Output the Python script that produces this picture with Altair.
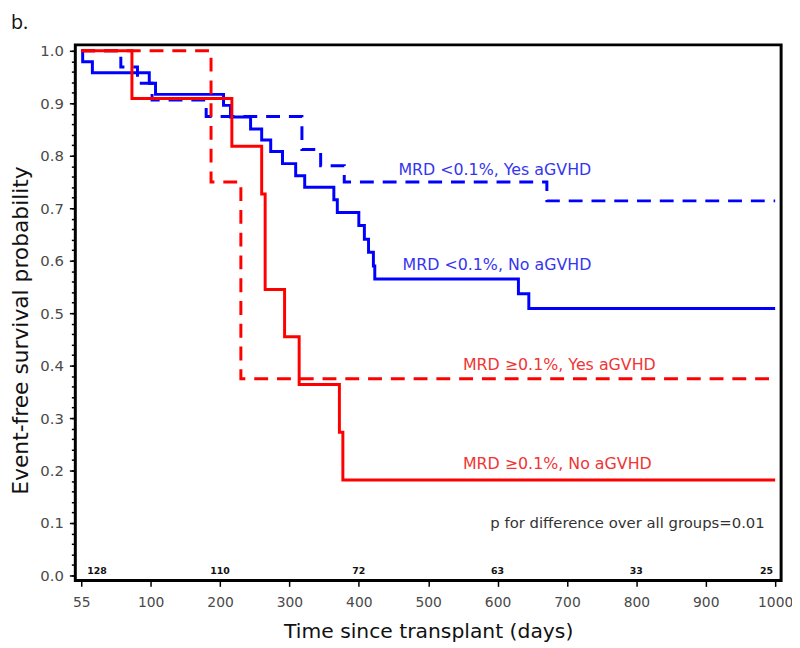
import altair as alt
import pandas as pd

# ---- data ----
blue_no_days = [0, 2, 16, 98, 107, 205, 215, 244, 260, 273, 290, 309, 322, 364, 369, 400, 408, 414, 421, 423, 630, 645, 1000]
blue_no_surv = [1.0, 0.979, 0.958, 0.938, 0.917, 0.896, 0.874, 0.851, 0.830, 0.808, 0.785, 0.762, 0.740, 0.716, 0.692, 0.667, 0.641, 0.616, 0.590, 0.565, 0.537, 0.509, 0.509]

blue_yes_days = [0, 57, 81, 102, 180, 318, 345, 379, 671, 1000]
blue_yes_surv = [1.0, 0.969, 0.938, 0.906, 0.875, 0.812, 0.781, 0.750, 0.714, 0.714]

red_no_days = [0, 73, 217, 260, 265, 293, 314, 372, 377, 1000]
red_no_surv = [1.0, 0.909, 0.818, 0.727, 0.545, 0.455, 0.364, 0.273, 0.182, 0.182]

red_yes_days = [0, 187, 230, 1000]
red_yes_surv = [1.0, 0.75, 0.375, 0.375]

series_names = ["MRD <0.1%, No aGVHD", "MRD <0.1%, Yes aGVHD",
                "MRD \u22650.1%, No aGVHD", "MRD \u22650.1%, Yes aGVHD"]
series_colors = ["#0000FF", "#0000FF", "#FF0000", "#FF0000"]
series_dash = [[1, 0], [14, 9], [1, 0], [14, 9]]

label_day = [463, 457, 550, 550]
label_surv = [0.591, 0.772, 0.212, 0.402]
label_colors = ["#3535f0", "#3535f0", "#f03535", "#f03535"]

risk_days = [0, 200, 400, 600, 800, 1000]
risk_n = [128, 110, 72, 63, 33, 25]

x_ticks = [0, 100, 200, 300, 400, 500, 600, 700, 800, 900, 1000]
y_ticks = [0.0, 0.1, 0.2, 0.3, 0.4, 0.5, 0.6, 0.7, 0.8, 0.9, 1.0]
y_minor = [round(i * 0.02, 2) for i in range(51)]

p_text = "p for difference over all groups=0.01"

# ---- tables ----
rows = []
for name, d, s in zip(series_names,
                      [blue_no_days, blue_yes_days, red_no_days, red_yes_days],
                      [blue_no_surv, blue_yes_surv, red_no_surv, red_yes_surv]):
    for i, (dd, ss) in enumerate(zip(d, s)):
        rows.append({"series": name, "day": dd, "surv": ss, "ord": i})
curves = pd.DataFrame(rows)
labels = pd.DataFrame({"series": series_names, "day": label_day, "surv": label_surv})
risk = pd.DataFrame({"day": risk_days, "n": [str(v) for v in risk_n], "surv": [0.008] * len(risk_days)})
ptab = pd.DataFrame({"day": [985], "surv": [0.1], "t": [p_text]})

FONT = "DejaVu Sans"

xscale = alt.Scale(domain=[-8.6, 1008.6], nice=False, zero=False)
yscale = alt.Scale(domain=[-0.0094, 1.0113], nice=False, zero=False)

xaxis = alt.Axis(
    values=x_ticks, format="d",
    labelExpr="datum.value == 0 ? '55' : datum.label",
    title="Time since transplant (days)",
    domain=False, grid=False, labelOverlap=False, labelFlush=False,
    tickColor="black", tickWidth=1.5, tickSize=6,
    labelFont=FONT, labelFontSize=14, labelColor="#4a4a4a", labelPadding=9,
    titleFont=FONT, titleFontSize=20.5, titleFontWeight="normal", titleColor="#111111",
    titleX=356.5, titleY=58, titleAlign="center", titleBaseline="alphabetic",
)
yaxis = alt.Axis(
    orient="left", values=y_ticks, format=".1f",
    title="Event-free survival probability",
    domain=False, grid=False, labelOverlap=False, labelFlush=False,
    tickColor="black", tickWidth=1.5, tickSize=6,
    labelFont=FONT, labelFontSize=15, labelColor="#4a4a4a", labelPadding=6,
    titleFont=FONT, titleFontSize=22, titleFontWeight="normal", titleColor="#111111",
    titleX=-48, titleY=288, titleAngle=270, titleAlign="center", titleBaseline="alphabetic",
)
yaxis_minor = alt.Axis(
    orient="left", values=y_minor, labels=False, title="",
    domain=False, grid=False,
    tickColor="black", tickWidth=1.5, tickSize=4,
)

lines = alt.Chart(curves).mark_line(interpolate="step-after", strokeWidth=3).encode(
    x=alt.X("day:Q", scale=xscale, axis=xaxis),
    y=alt.Y("surv:Q", scale=yscale, axis=yaxis),
    color=alt.Color("series:N", scale=alt.Scale(domain=series_names, range=series_colors), legend=None),
    strokeDash=alt.StrokeDash("series:N", scale=alt.Scale(domain=series_names, range=series_dash), legend=None),
    order="ord:Q",
)

minor_ticks = alt.Chart(pd.DataFrame({"surv": [0.5]})).mark_point(opacity=0).encode(
    y=alt.Y("surv:Q", scale=yscale, axis=yaxis_minor)
)

X_PLAIN = alt.X("day:Q")
Y_PLAIN = alt.Y("surv:Q", axis=None)

label_layer = alt.Chart(labels).mark_text(align="left", baseline="middle", font=FONT, fontSize=16).encode(
    x=X_PLAIN, y=Y_PLAIN, text="series:N",
    color=alt.Color("series:N", scale=alt.Scale(domain=series_names, range=label_colors), legend=None),
)

p_layer = alt.Chart(ptab).mark_text(align="right", baseline="middle", font=FONT, fontSize=15, color="#333333").encode(
    x=X_PLAIN, y=Y_PLAIN, text="t:N"
)

risk_base = alt.Chart(risk)
risk_first = risk_base.transform_filter("datum.day == 0").mark_text(
    align="left", dx=6, baseline="middle", font=FONT, fontSize=9.5, fontWeight="bold", color="#111111"
).encode(x=X_PLAIN, y=Y_PLAIN, text="n:N")
risk_mid = risk_base.transform_filter("datum.day > 0 && datum.day < 1000").mark_text(
    align="center", baseline="middle", font=FONT, fontSize=9.5, fontWeight="bold", color="#111111"
).encode(x=X_PLAIN, y=Y_PLAIN, text="n:N")
risk_last = risk_base.transform_filter("datum.day == 1000").mark_text(
    align="right", dx=-2, baseline="middle", font=FONT, fontSize=9.5, fontWeight="bold", color="#111111"
).encode(x=X_PLAIN, y=Y_PLAIN, text="n:N")

panel_tag = alt.Chart(pd.DataFrame({"t": ["b."]})).mark_text(
    align="left", baseline="alphabetic", font="Open Sans", fontSize=20, color="#111111"
).encode(x=alt.value(-65), y=alt.value(-16), text="t:N")

chart = alt.layer(
    lines, minor_ticks, label_layer, p_layer, risk_first, risk_mid, risk_last, panel_tag
).resolve_scale(color="independent").resolve_axis(y="independent").properties(
    width=713, height=541,
    autosize=alt.AutoSizeParams(type="none"),
    padding={"left": 68, "top": 34, "right": 11, "bottom": 65},
).configure_view(stroke="black", strokeWidth=3)

chart.save("out.html", embed_options={"renderer": "svg", "actions": False})
